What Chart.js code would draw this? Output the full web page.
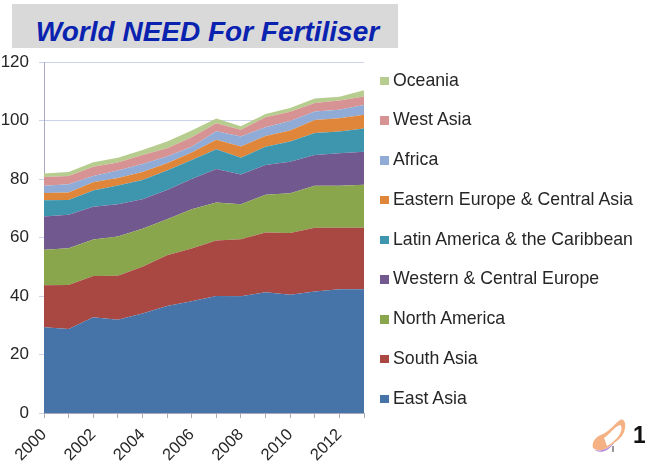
<!DOCTYPE html>
<html>
<head>
<meta charset="utf-8">
<title>World NEED For Fertiliser</title>
<script src="https://cdn.jsdelivr.net/npm/chart.js@4"></script>
<style>
    html, body { margin: 0; padding: 0; background: #fff; }
    #page { position: relative; width: 645px; height: 465px; overflow: hidden; font-family: "Liberation Sans", Arial, sans-serif; }
    #chartBox { position: absolute; left: 0; top: 0; width: 645px; height: 465px; }
    #heading {
        position: absolute; left: 12px; top: 4px; width: 386px; height: 44px; background: #d9d9d9;
        color: #0a22b0; font-size: 28px; font-weight: bold; font-style: italic; line-height: 56px; text-align: center;
        box-sizing: border-box; padding-left: 5px; overflow: hidden;
    }
    #legend { position: absolute; left: 380px; top: 60.5px; }
    .legendRow { position: relative; height: 39.75px; width: 265px; color: #262626; font-size: 17.7px; line-height: 39.75px; white-space: nowrap; }
    .legendRow i { position: absolute; left: 0; top: 16px; width: 8.5px; height: 8.5px; }
    .legendRow span { position: absolute; left: 13px; }
    #pageNo { position: absolute; left: 633px; top: 422px; font-size: 23px; font-weight: bold; color: #111; }
    #shoe { position: absolute; left: 590px; top: 417px; }
</style>
</head>
<body>
<div id="page">
    <div id="chartBox"><canvas id="myChart" width="645" height="465"></canvas></div>
    <div id="heading">World NEED For Fertiliser</div>
    <div id="legend"></div>
    <svg id="shoe" width="38" height="38" viewBox="0 0 38 38">
        <path d="M3 31 C1 24 7 19 13 17 C20 14 24 7 30 3 C34 1 36 6 35 11 C34 18 30 22 24 26 C18 30 12 37 3 31 Z" fill="#f4b183"/>
        <path d="M14 21 C20 17 24 10 30 8 C33 9 32 17 25 23 C22 26 19 28 17 29 C16 26 15 24 14 21 Z" fill="#fff"/>
        <path d="M2 29 C5 36 14 35 24 26 C18 35 7 39 2 29 Z" fill="#b58ad6"/>
        <line x1="23" y1="29" x2="23" y2="35" stroke="#333" stroke-width="1"/>
    </svg>
    <div id="pageNo">1</div>
</div>
<script>
    const years = ['2000', '2001', '2002', '2003', '2004', '2005', '2006', '2007', '2008', '2009', '2010', '2011', '2012', '2013'];
    const yTicks = [0, 20, 40, 60, 80, 100, 120];

    // Million tonnes per region (each one is the band height, not the top edge)
    const eastAsia = [29.3, 28.7, 32.7, 31.9, 34, 36.6, 38.2, 40, 39.9, 41.3, 40.4, 41.5, 42.3, 42.3];
    const southAsia = [14.4, 15.1, 14.1, 15, 16, 17.3, 18, 19, 19.5, 20.4, 21.1, 21.8, 21, 21];
    const northAmerica = [12.1, 12.5, 12.5, 13.4, 13, 12.3, 13.5, 13, 12, 12.9, 13.6, 14.4, 14.4, 14.7];
    const westernEurope = [11.4, 11.5, 11.2, 11.1, 10.1, 10, 10.3, 11.4, 10.1, 10.2, 10.8, 10.5, 11.1, 11.3];
    const latinAmerica = [5.5, 5, 5.6, 6.4, 6.6, 6.7, 6.5, 6.8, 5.8, 6.2, 6.9, 7.5, 7.4, 8];
    const easternEurope = [2.5, 2.6, 2.8, 2.5, 2.7, 2.5, 2.6, 3.2, 3.8, 3.7, 3.8, 4.5, 4.6, 4.7];
    const africa = [2.5, 2.8, 2.1, 2.6, 2.7, 2.3, 1.9, 2.9, 3.4, 3, 3.2, 2.9, 2.9, 3.3];
    const westAsia = [3, 2.8, 3.2, 2.7, 3.1, 2.8, 3.3, 2.8, 2.3, 3.4, 3.2, 2.9, 3.1, 2.9];
    const oceania = [1.2, 1.4, 1.5, 1.7, 1.7, 2.3, 2.3, 1.6, 1.2, 1.1, 1.3, 1.5, 1.3, 2.1];

    const seriesNames = ['East Asia', 'South Asia', 'North America', 'Western & Central Europe', 'Latin America & the Caribbean',
        'Eastern Europe & Central Asia', 'Africa', 'West Asia', 'Oceania'];
    const seriesValues = [eastAsia, southAsia, northAmerica, westernEurope, latinAmerica, easternEurope, africa, westAsia, oceania];
    const seriesColors = ['#4674a9', '#a94743', '#8aa64c', '#71588f', '#3e96ae', '#e0863a', '#8fabd6', '#d79394', '#b6cd8f'];

    const datasets = seriesNames.map((name, i) => ({
        label: name,
        data: seriesValues[i],
        backgroundColor: seriesColors[i],
        borderWidth: 0,
        pointRadius: 0,
        tension: 0,
        fill: i === 0 ? 'origin' : '-1'
    }));

    // Legend sits outside the canvas, top entry is the top band
    const legend = document.getElementById('legend');
    seriesNames.slice().reverse().forEach((name, i) => {
        const row = document.createElement('div');
        row.className = 'legendRow';
        const box = document.createElement('i');
        box.style.background = seriesColors[seriesNames.length - 1 - i];
        const text = document.createElement('span');
        text.textContent = name;
        row.appendChild(box);
        row.appendChild(text);
        legend.appendChild(row);
    });

    const ctx = document.getElementById('myChart').getContext('2d');
    new Chart(ctx, {
        type: 'line',
        data: { labels: years, datasets: datasets },
        options: {
            responsive: false,
            animation: false,
            layout: { padding: { left: 0, right: 281, top: 62, bottom: 0 } },
            plugins: { legend: { display: false }, tooltip: { enabled: false } },
            scales: {
                x: {
                    offset: false,
                    afterFit: scale => { scale.height = 52; },
                    border: { color: '#a9a9b8' },
                    grid: { drawOnChartArea: false, color: '#a9a9b8', tickLength: 5 },
                    ticks: {
                        autoSkip: false,
                        maxRotation: 45,
                        minRotation: 45,
                        padding: 7,
                        color: '#262626',
                        font: { family: '"Liberation Sans"', size: 16.5 },
                        callback: function (value, index) {
                            return index % 2 === 0 ? years[index] : '';
                        }
                    }
                },
                y: {
                    stacked: true,
                    min: 0,
                    max: 120,
                    afterFit: scale => { scale.width = 44; },
                    afterBuildTicks: scale => { scale.ticks = yTicks.map(v => ({ value: v })); },
                    border: { color: '#a9a9c4' },
                    grid: { color: '#cdd2ec', tickLength: 5 },
                    ticks: {
                        padding: 10,
                        color: '#262626',
                        font: { family: '"Liberation Sans"', size: 17 }
                    }
                }
            }
        }
    });
</script>
</body>
</html>
